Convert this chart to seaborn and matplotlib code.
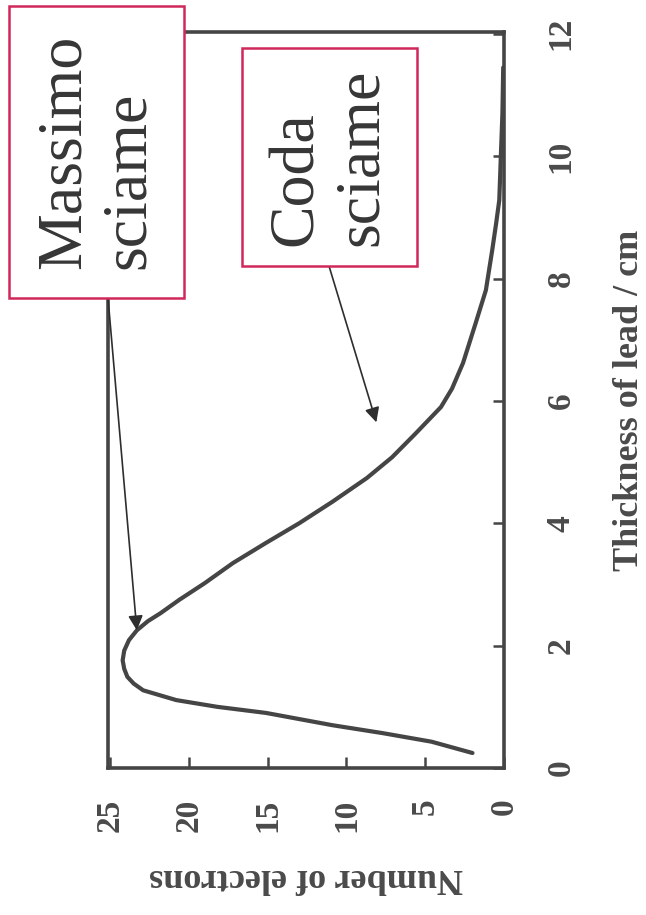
import numpy as np
import pandas as pd
import matplotlib
matplotlib.use("Agg")
import matplotlib.pyplot as plt
from matplotlib.patches import Rectangle
import seaborn as sns

# Longitudinal shower profile: electrons counted behind increasing lead thickness
thickness_cm = [0.245, 0.43, 0.57, 0.70, 0.90, 1.00, 1.11, 1.27, 1.38, 1.49, 1.62,
                1.76, 1.92, 2.09, 2.25, 2.40, 2.53, 2.75, 3.02, 3.35, 3.68, 4.00,
                4.35, 4.74, 5.08, 5.47, 5.90, 6.20, 6.62, 7.27, 7.81, 8.46, 8.90,
                9.28, 10.0, 10.7, 11.45]
electrons = [2.0, 4.6, 7.7, 10.9, 15.1, 18.2, 20.8, 22.9, 23.5, 23.9, 24.1,
             24.2, 24.1, 23.8, 23.3, 22.6, 21.8, 20.6, 19.0, 17.2, 15.1, 13.0,
             10.9, 8.7, 7.1, 5.6, 4.0, 3.3, 2.6, 1.8, 1.15, 0.75, 0.5,
             0.3, 0.2, 0.1, 0.05]

thickness_ticks = [0, 2, 4, 6, 8, 10, 12]
electron_ticks = [0, 5, 10, 15, 20, 25]

label_max = "Massimo\nsciame"
label_tail = "Coda\nsciame"

df = pd.DataFrame({"thickness": thickness_cm, "electrons": electrons})

sns.set_style("ticks")
plt.rcParams["font.family"] = ["Liberation Serif", "DejaVu Serif"]

W, H = 646, 915
fig = plt.figure(figsize=(W / 100, H / 100), dpi=100)
ax = fig.add_axes([108 / W, 1 - 768 / H, (504 - 108) / W, (768 - 32) / H])

axis_col = "#454545"
sns.lineplot(data=df, x="electrons", y="thickness", orient="y", estimator=None,
             color=axis_col, lw=3.0, ax=ax)
ax.lines[0].set_solid_joinstyle("round")

ax.set_xlim(25.13, 0)
ax.set_ylim(0, 12.03)

for s in ax.spines.values():
    s.set_color(axis_col)
    s.set_linewidth(2.6)

ax.yaxis.tick_right()
ax.yaxis.set_label_position("right")
ax.set_xticks(electron_ticks)
ax.set_yticks(thickness_ticks)
ax.set_xticklabels([str(v) for v in electron_ticks], rotation=90, va="top")
ax.set_yticklabels([str(v) for v in thickness_ticks], rotation=90, va="center")
ax.tick_params(axis="both", direction="in", length=8, width=1.8, color=axis_col,
               labelsize=24, labelcolor="#4a4a4a")
ax.tick_params(axis="x", pad=22)
ax.tick_params(axis="y", pad=30)
for t in ax.get_xticklabels() + ax.get_yticklabels():
    t.set_fontweight("bold")

ax.set_xlabel("Number of electrons", rotation=180, fontsize=26, fontweight="bold",
              color="#4a4a4a", labelpad=21)
ax.set_ylabel("Thickness of lead / cm", rotation=90, fontsize=26, fontweight="bold",
              color="#4a4a4a", labelpad=26)

# Annotation boxes (rotated text inside pink-framed white boxes)
box_col = "#d0285a"
text_col = "#363636"
boxes = [((9, 6, 184, 298), label_max), ((242, 48, 417, 266), label_tail)]
for (x0, y0, x1, y1), txt in boxes:
    fig.patches.append(Rectangle((x0 / W, 1 - y1 / H), (x1 - x0) / W, (y1 - y0) / H,
                                 transform=fig.transFigure, facecolor="white",
                                 edgecolor=box_col, lw=1.8, zorder=5))
    fig.text((x0 + x1) / 2 / W, 1 - (y0 + y1) / 2 / H, txt, rotation=90,
             ha="center", va="center", multialignment="left", fontsize=46,
             color=text_col, zorder=6, linespacing=1.15)

arrow_kw = dict(arrowstyle="-|>", color="#2e2e2e", lw=1.2, mutation_scale=22,
                shrinkA=0, shrinkB=0)
peak_t = 2.25
peak_n = float(np.interp(peak_t, thickness_cm, electrons))
ax.annotate("", xy=(peak_n, peak_t), xycoords="data",
            xytext=(108, H - 298), textcoords="figure pixels",
            arrowprops=arrow_kw, annotation_clip=False)
ax.annotate("", xy=(8.1, 5.65), xycoords="data",
            xytext=(329, H - 266), textcoords="figure pixels",
            arrowprops=arrow_kw, annotation_clip=False)

fig.savefig("out.png", dpi=100, facecolor="white")
